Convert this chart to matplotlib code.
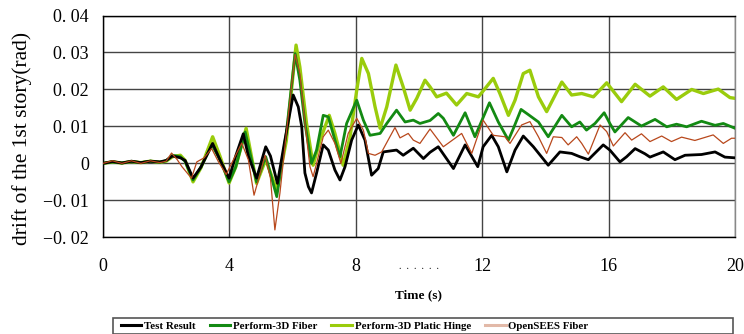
import matplotlib
matplotlib.use("Agg")
from matplotlib import pyplot as plt
from matplotlib.lines import Line2D
from matplotlib.patches import Rectangle

# ---- data ----
t_test = [0, 0.3, 0.6, 0.9, 1.2, 1.5, 1.8, 2.0, 2.2, 2.45, 2.6, 2.85, 3.1, 3.47, 3.7, 3.99, 4.2,
          4.44, 4.6, 4.86, 5.15, 5.3, 5.52, 5.75, 6.02, 6.18, 6.29, 6.39, 6.5, 6.6, 6.76, 6.97,
          7.13, 7.34, 7.5, 7.66, 7.87, 8.08, 8.29, 8.5, 8.71, 8.87, 9.29, 9.5, 9.82, 10.14, 10.35,
          10.61, 11.09, 11.46, 11.86, 12.03, 12.3, 12.51, 12.78, 13.04, 13.3, 13.62, 14.09, 14.46,
          14.83, 15.09, 15.36, 15.83, 16.04, 16.36, 16.57, 16.84, 17.15, 17.31, 17.73, 18.1,
          18.42, 18.94, 19.37, 19.68, 20]
v_test = [0, 0.0005, 0.0001, 0.0006, 0.0002, 0.0006, 0.0004, 0.0008, 0.002, 0.0015, 0.0008, -0.004,
          -0.001, 0.0054, 0.001, -0.004, 0.002, 0.008, 0.002, -0.004, 0.0045, 0.002, -0.0054, 0.006,
          0.0185, 0.0153, 0.0099, -0.0026, -0.0063, -0.008, -0.0026, 0.005, 0.0036, -0.0018,
          -0.0045, -0.0009, 0.0063, 0.0104, 0.0063, -0.0032, -0.0014, 0.0031, 0.0036, 0.0022,
          0.0041, 0.0013, 0.003, 0.0045, -0.0014, 0.005, -0.0009, 0.0045, 0.0076, 0.0045, -0.0023,
          0.0036, 0.0074, 0.0045, -0.0005, 0.0031, 0.0027, 0.0018, 0.001, 0.005, 0.0036, 0.0004,
          0.0018, 0.004, 0.0026, 0.0017, 0.0031, 0.001, 0.0022, 0.0024, 0.0031, 0.0017, 0.0015]

t_fiber = [0, 0.3, 0.6, 0.9, 1.2, 1.5, 1.8, 2.0, 2.2, 2.45, 2.6, 2.85, 3.1, 3.45, 3.7, 3.99, 4.2,
           4.5, 4.86, 5.15, 5.5, 5.8, 6.08, 6.23, 6.39, 6.6, 6.76, 6.97, 7.13, 7.34, 7.5, 7.71,
           8.03, 8.24, 8.45, 8.77, 8.98, 9.29, 9.56, 9.82, 10.03, 10.35, 10.61, 10.77, 11.09, 11.46,
           11.77, 11.93, 12.23, 12.51, 12.83, 12.99, 13.23, 13.46, 13.78, 14.09, 14.52, 14.83,
           15.09, 15.3, 15.57, 15.86, 16.04, 16.2, 16.62, 17.04, 17.47, 17.84, 18.15, 18.47, 18.94,
           19.37, 19.63, 20]
v_fiber = [0, 0.0004, 0.0001, 0.0005, 0.0002, 0.0006, 0.0003, 0.0007, 0.0022, 0.0018, 0.0005,
           -0.0045, -0.001, 0.005, 0.001, -0.005, -0.001, 0.0085, -0.005, 0.0018, -0.009, 0.008,
           0.0297, 0.0225, 0.0109, 0, 0.0036, 0.013, 0.0126, 0.0063, 0.0018, 0.0108, 0.0171,
           0.0117, 0.0076, 0.0081, 0.0108, 0.0144, 0.0112, 0.0117, 0.0108, 0.0116, 0.0135, 0.0122,
           0.0076, 0.0137, 0.0072, 0.0104, 0.0164, 0.0112, 0.0063, 0.0095, 0.0146, 0.0132, 0.0112,
           0.0072, 0.013, 0.0099, 0.0112, 0.009, 0.0108, 0.0137, 0.0108, 0.0085, 0.0124, 0.0101,
           0.0119, 0.0099, 0.0106, 0.0099, 0.0114, 0.0103, 0.0108, 0.0095]

t_hinge = [0, 0.3, 0.6, 0.9, 1.2, 1.5, 1.8, 2.0, 2.2, 2.45, 2.6, 2.85, 3.1, 3.47, 3.7, 3.99, 4.2,
           4.53, 4.86, 5.15, 5.5, 5.8, 6.11, 6.23, 6.44, 6.65, 6.87, 7.16, 7.34, 7.6, 7.82, 8.03,
           8.19, 8.4, 8.61, 8.77, 8.98, 9.27, 9.5, 9.72, 9.93, 10.19, 10.35, 10.56, 10.87, 11.19,
           11.51, 11.88, 12.35, 12.56, 12.83, 13.04, 13.3, 13.51, 13.78, 14.04, 14.52, 14.83,
           15.15, 15.52, 15.94, 16.41, 16.84, 17.31, 17.73, 18.15, 18.63, 19.0, 19.47, 19.84, 20]
v_hinge = [0, 0.0004, 0.0001, 0.0005, 0.0002, 0.0006, 0.0003, 0.0006, 0.0018, 0.0022, 0.0008,
           -0.005, -0.0012, 0.0072, 0.002, -0.0053, -0.001, 0.0095, -0.0054, 0.001, -0.0072, 0.006,
           0.032, 0.0261, 0.0109, -0.0005, 0.0063, 0.013, 0.0081, -0.0005, 0.0072, 0.0198, 0.0284,
           0.0243, 0.0153, 0.0095, 0.0153, 0.0266, 0.0207, 0.0144, 0.0176, 0.0225, 0.0207, 0.018,
           0.019, 0.0158, 0.0189, 0.018, 0.023, 0.0189, 0.013, 0.0171, 0.0243, 0.0252, 0.018,
           0.014, 0.022, 0.0185, 0.0189, 0.018, 0.0218, 0.0167, 0.0214, 0.0182, 0.0207, 0.0173,
           0.02, 0.0189, 0.0201, 0.0178, 0.0176]

t_ops = [0, 0.3, 0.6, 0.9, 1.2, 1.5, 1.8, 2.0, 2.17, 2.35, 2.5, 2.8, 2.97, 3.2, 3.44, 3.65, 3.9,
         4.1, 4.39, 4.6, 4.78, 5.0, 5.13, 5.3, 5.44, 5.6, 5.8, 6.08, 6.23, 6.39, 6.55, 6.65, 6.76,
         6.97, 7.13, 7.34, 7.53, 7.76, 8.03, 8.24, 8.4, 8.61, 8.82, 9.08, 9.24, 9.4, 9.66, 9.82,
         10.03, 10.35, 10.77, 10.98, 11.35, 11.67, 12.03, 12.35, 12.72, 12.88, 13.25, 13.51,
         13.78, 14.04, 14.25, 14.52, 14.72, 14.99, 15.15, 15.36, 15.73, 15.94, 16.15, 16.52,
         16.73, 17.04, 17.31, 17.68, 17.99, 18.31, 18.73, 19.31, 19.63, 19.89, 20]
v_ops = [0, 0.0007, 0.0, 0.0007, 0.0, 0.0007, 0.0002, 0.0006, 0.0028, 0.001, -0.0009, -0.004,
         0.0004, 0.0015, 0.004, 0.0005, -0.003, 0.0005, 0.0055, 0.001, -0.0086, -0.002, 0.0022,
         -0.004, -0.018, -0.008, 0.008, 0.0295, 0.0243, 0.011, -0.0009, -0.0036, 0, 0.0072, 0.009,
         0.0054, 0, 0.0081, 0.0122, 0.009, 0.0027, 0.0022, 0.0031, 0.0072, 0.0097, 0.0069, 0.0081,
         0.0063, 0.0054, 0.0093, 0.0045, 0.0058, 0.0081, 0.0027, 0.0117, 0.0076, 0.0072, 0.0054,
         0.0104, 0.0113, 0.0072, 0.0027, 0.0072, 0.007, 0.005, 0.0072, 0.0054, 0.0025, 0.0104,
         0.0086, 0.0047, 0.0083, 0.0063, 0.008, 0.0059, 0.0074, 0.0059, 0.0071, 0.0062, 0.0077,
         0.0054, 0.0068, 0.0068]

x_ticks = [0, 4, 8, 12, 16, 20]
y_ticks = [-0.02, -0.01, 0, 0.01, 0.02, 0.03, 0.04]
y_tick_labels = ["\u22120. 02", "\u22120. 01", "0", "0. 01", "0. 02", "0. 03", "0. 04"]
legend_labels = ["Test Result", "Perform-3D Fiber", "Perform-3D Platic Hinge", "OpenSEES Fiber"]

plt.rcParams["font.family"] = ["Liberation Serif", "DejaVu Serif"]

fig = plt.figure(figsize=(7.44, 3.34), dpi=100)
ax = fig.add_axes([0.1384, 0.2895, 0.8495, 0.664])

ax.plot(t_hinge, v_hinge, color="#9acc0c", lw=2.4, zorder=2, solid_joinstyle="round")
ax.plot(t_fiber, v_fiber, color="#138a13", lw=2.0, zorder=3, solid_joinstyle="round")
ax.plot(t_test, v_test, color="black", lw=2.0, zorder=4, solid_joinstyle="round")
ax.plot(t_ops, v_ops, color="#b8481c", lw=0.9, zorder=5)

ax.set_xlim(0, 20)
ax.set_ylim(-0.02, 0.04)
ax.set_xticks(x_ticks)
ax.set_xticklabels([str(x) for x in x_ticks])
ax.set_yticks(y_ticks)
ax.set_yticklabels(y_tick_labels)
ax.tick_params(length=0, labelsize=13)
ax.tick_params(axis="x", pad=15)
ax.tick_params(axis="y", pad=10)
ax.grid(True, color="#444444", lw=1.0)
for s in ax.spines.values():
    s.set_color("black")
    s.set_linewidth(1.0)
ax.spines["right"].set_color("#888888")

ax.set_ylabel("drift of the 1st story(rad)", fontsize=15.5)
ax.yaxis.set_label_coords(-0.112, 0.447)
ax.set_xlabel("Time (s)", fontsize=9.5, fontweight="bold", labelpad=10)
ax.text(0.5, -0.145, ".  .  .  .  .  .", transform=ax.transAxes, ha="center", fontsize=7)

# legend: proxy handles, frame drawn separately to match the wide box
handles = [Line2D([], [], color="black", lw=2.2),
           Line2D([], [], color="#138a13", lw=2.2),
           Line2D([], [], color="#9acc0c", lw=2.2),
           Line2D([], [], color="#e2b9a8", lw=2.2)]
fig.legend(handles, legend_labels, loc="center left", bbox_to_anchor=(113 / 744, 1 - 326 / 334),
           ncol=4, frameon=False, prop={"size": 7.8, "weight": "bold"},
           handlelength=1.9, handletextpad=0.25, columnspacing=1.3, borderpad=0.2)
fig.patches.append(Rectangle((113 / 744, 1 - 333.5 / 334), 620 / 744, 15.5 / 334,
                             transform=fig.transFigure, fill=False, edgecolor="#555555", lw=1.2))

fig.savefig("out.png", dpi=100)
